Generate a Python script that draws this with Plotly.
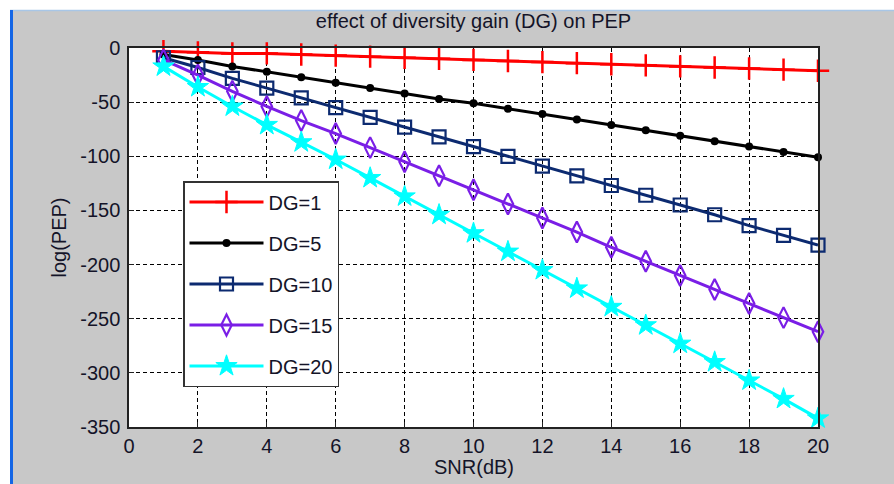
import plotly.graph_objects as go

snr = list(range(1, 21))
dg1 = [-3, -4, -5, -5, -6, -7, -8, -9, -10, -11, -12, -13, -14, -15, -16, -17, -18, -19, -20, -21]
dg5 = [-6, -11, -17, -22, -27, -32, -37, -42, -47, -51, -56, -61, -66, -71, -76, -81, -86, -91, -96, -101]
dg10 = [-9, -18, -28, -37, -46, -55, -64, -73, -82, -91, -100, -109, -118, -127, -136, -145, -154, -164, -173, -182]
dg15 = [-11, -25, -40, -54, -67, -79, -92, -105, -118, -131, -144, -157, -170, -184, -197, -210, -223, -236, -249, -262]
dg20 = [-17, -36, -54, -71, -87, -103, -120, -137, -154, -171, -188, -205, -222, -239, -256, -273, -290, -307, -324, -342]

y_tickvals = [0, -50, -100, -150, -200, -250, -300, -350]
y_ticktext = ["0", "-50", "-100", "-150", "-200", "-250", "-300", "-350"]
x_tickvals = [0, 2, 4, 6, 8, 10, 12, 14, 16, 18, 20]

series = [
    ("DG=1", dg1, "#ff0000", dict(symbol="cross-thin", size=16, line=dict(width=2.5, color="#ff0000"))),
    ("DG=5", dg5, "#000000", dict(symbol="circle", size=8, color="#000000")),
    ("DG=10", dg10, "#0c2a70", dict(symbol="square-open", size=13, line=dict(width=2.2, color="#0c2a70"))),
    ("DG=15", dg15, "#7a1ee6", dict(symbol="diamond-tall-open", size=15, line=dict(width=2.2, color="#7a1ee6"))),
    ("DG=20", dg20, "#00ffff", dict(symbol="star", size=16, color="#00ffff", line=dict(width=1, color="#00ffff"))),
]

font_family = "Arial, Liberation Sans, sans-serif"
txt = "#141428"
fs = 20

fig = go.Figure()
for i, (name, vals, col, mk) in enumerate(series):
    fig.add_trace(go.Scatter(
        x=snr, y=vals, name=name, mode="lines+markers",
        line=dict(color=col, width=3), marker=mk, cliponaxis=False,
        legendgroup=f"g{i}",
    ))

L, R, T, B = 129, 818, 48, 427
W, H = 894, 484
pw, ph = R - L, B - T
def px(x): return (x - L) / pw
def py(y): return (B - y) / ph

shapes = [
    dict(type="rect", xref="paper", yref="paper", x0=px(0), x1=px(W), y0=py(10), y1=py(0),
         fillcolor="white", line=dict(width=0), layer="below"),
    dict(type="rect", xref="paper", yref="paper", x0=px(0), x1=px(10), y0=py(H), y1=py(0),
         fillcolor="white", line=dict(width=0), layer="below"),
    dict(type="line", xref="paper", yref="paper", x0=px(10), x1=px(W), y0=py(10.5), y1=py(10.5),
         line=dict(color="#a8c6e6", width=1.5), layer="below"),
    dict(type="rect", xref="paper", yref="paper", x0=px(10), x1=px(13), y0=py(H), y1=py(10),
         fillcolor="#1466e6", line=dict(width=0), layer="below"),
]

axis_common = dict(
    showline=True, linecolor="#222222", linewidth=1.5, mirror=True,
    ticks="inside", ticklen=5, tickcolor="#222222",
    showgrid=True, gridcolor="#000000", gridwidth=1, griddash="4px,3px",
    zeroline=False, tickfont=dict(family=font_family, size=fs, color=txt),
)

fig.update_layout(
    width=W, height=H,
    margin=dict(l=L, r=W - R, t=T, b=H - B),
    paper_bgcolor="#c8c8c8", plot_bgcolor="white",
    shapes=shapes,
    title=dict(text="effect of diversity gain (DG) on PEP", x=px((L + R) / 2), xref="paper",
               y=1 - 21 / H, yref="container", xanchor="center", yanchor="middle",
               font=dict(family=font_family, size=fs, color=txt)),
    xaxis=dict(range=[0, 20], tickvals=x_tickvals, ticklabelstandoff=0, **axis_common),
    yaxis=dict(range=[-350, 0], tickvals=y_tickvals, ticktext=y_ticktext, ticklabelstandoff=3, **axis_common),
    legend=dict(x=px(183), y=py(181), xanchor="left", yanchor="top",
                bgcolor="white", bordercolor="#333333", borderwidth=1.5,
                font=dict(family=font_family, size=fs, color=txt),
                traceorder="grouped", tracegroupgap=12, itemwidth=74),
    annotations=[
        dict(text="SNR(dB)", x=px((L + R) / 2), y=py(467), xref="paper", yref="paper",
             showarrow=False, xanchor="center", yanchor="middle",
             font=dict(family=font_family, size=fs, color=txt)),
        dict(text="log(PEP)", x=px(58), y=py((T + B) / 2), xref="paper", yref="paper",
             showarrow=False, xanchor="center", yanchor="middle", textangle=-90,
             font=dict(family=font_family, size=fs, color=txt)),
    ],
    showlegend=True,
)

fig.write_html("out.html")
